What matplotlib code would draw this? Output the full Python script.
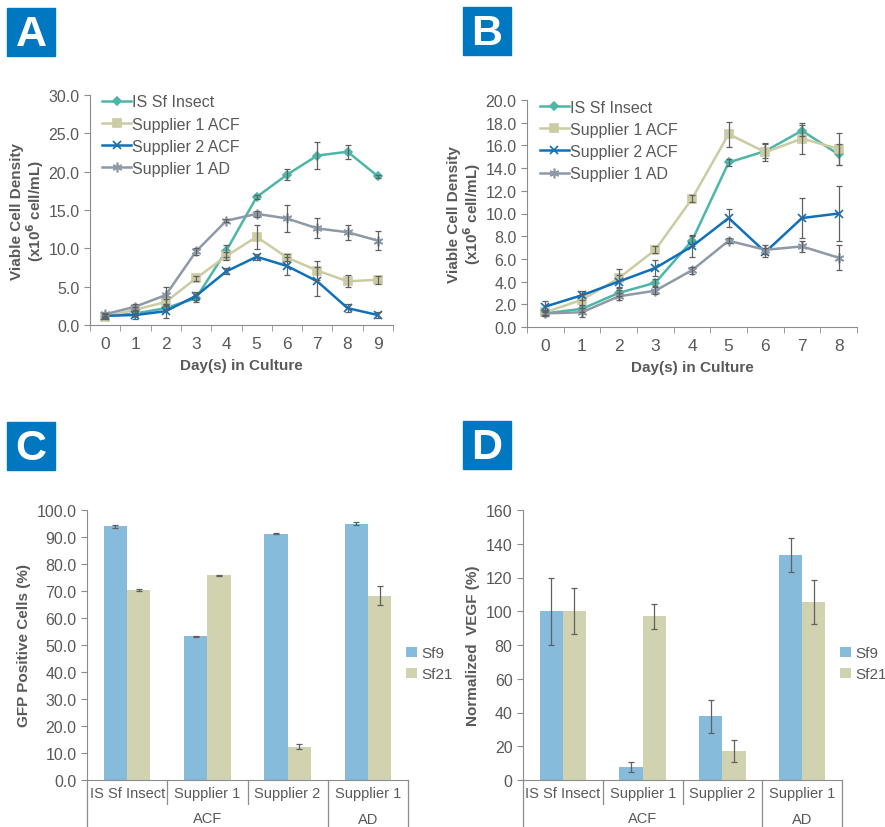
import numpy as np
import matplotlib
matplotlib.use('Agg')
import matplotlib.pyplot as plt
from matplotlib.patches import Rectangle

plt.rcParams['font.family'] = ['Liberation Sans', 'DejaVu Sans']

# ---- data ----
series = ['IS Sf Insect', 'Supplier 1 ACF', 'Supplier 2 ACF', 'Supplier 1 AD']

days_a = [0, 1, 2, 3, 4, 5, 6, 7, 8, 9]
a_vals = [
    [1.2, 1.5, 2.2, 3.5, 9.7, 16.7, 19.6, 22.1, 22.6, 19.4],
    [1.1, 2.0, 3.0, 6.1, 9.0, 11.5, 8.8, 7.1, 5.7, 5.9],
    [1.2, 1.3, 1.8, 3.8, 7.0, 8.9, 7.7, 5.7, 2.2, 1.3],
    [1.4, 2.4, 3.9, 9.6, 13.6, 14.5, 13.9, 12.6, 12.1, 11.0],
]
a_err = [
    [0.2, 0.3, 0.3, 0.5, 0.8, 0.3, 0.7, 1.8, 0.9, 0.2],
    [0.3, 0.4, 0.4, 0.3, 0.5, 1.6, 0.4, 1.2, 0.8, 0.5],
    [0.3, 0.5, 0.9, 0.5, 0.4, 0.4, 1.2, 1.9, 0.5, 0.4],
    [0.2, 0.4, 1.1, 0.5, 0.2, 0.4, 1.8, 1.3, 1.0, 1.2],
]

days_b = [0, 1, 2, 3, 4, 5, 6, 7, 8]
b_vals = [
    [1.2, 1.6, 3.0, 3.9, 7.6, 14.5, 15.5, 17.3, 15.2],
    [1.3, 2.4, 4.3, 6.8, 11.3, 17.0, 15.4, 16.6, 15.7],
    [1.8, 2.8, 4.0, 5.2, 7.1, 9.6, 6.6, 9.6, 10.0],
    [1.2, 1.3, 2.7, 3.2, 5.0, 7.6, 6.8, 7.1, 6.1],
]
b_err = [
    [0.2, 0.3, 0.3, 0.3, 0.5, 0.3, 0.6, 0.5, 0.9],
    [0.2, 0.5, 0.8, 0.3, 0.3, 1.1, 0.8, 1.4, 1.4],
    [0.5, 0.4, 0.6, 0.7, 0.9, 0.8, 0.4, 1.8, 2.4],
    [0.2, 0.4, 0.3, 0.3, 0.3, 0.2, 0.4, 0.5, 1.1],
]

groups = ['IS Sf Insect', 'Supplier 1', 'Supplier 2', 'Supplier 1']
cells = ['Sf9', 'Sf21']
c_sf9 = [94.0, 53.2, 91.2, 95.0]
c_sf9_err = [0.5, 0.2, 0.2, 0.4]
c_sf21 = [70.3, 75.8, 12.3, 68.2]
c_sf21_err = [0.3, 0.2, 1.0, 3.5]

d_sf9 = [100, 7.8, 37.7, 133.5]
d_sf9_err = [20, 3, 10, 10]
d_sf21 = [100, 97, 17.3, 105.6]
d_sf21_err = [13.5, 7.3, 6.4, 13]

# ---- style ----
line_colors = ['#4db6a6', '#cbcca3', '#0f70bb', '#8e99a8']
markers = ['D', 's', 'x', (6, 2, 0)]
msizes = [4, 6, 6, 7]
bar_colors = ['#86bbdb', '#d1d2b0']
badge_blue = '#0078c1'
txt = '#595959'
axc = '#8c8c8c'
errc = '#606060'

fig = plt.figure(figsize=(8.85, 8.28), dpi=100)


def px_axes(l, t, r, b):
    W, H = 885.0, 828.0
    return fig.add_axes([l / W, 1 - b / H, (r - l) / W, (b - t) / H])


def badge(x0, y0, letter):
    W, H = 885.0, 828.0
    fig.patches.append(Rectangle((x0 / W, 1 - (y0 + 48) / H), 48 / W, 48 / H,
                                 transform=fig.transFigure, color=badge_blue))
    fig.text((x0 + 24) / W, 1 - (y0 + 26) / H, letter, color='white',
             fontsize=31, fontweight='bold', ha='center', va='center')


def style_axes(ax):
    for s in ['top', 'right']:
        ax.spines[s].set_visible(False)
    ax.spines['left'].set_color(axc)
    ax.spines['bottom'].set_color(axc)
    ax.tick_params(axis='y', colors=axc, labelcolor=txt, labelsize=11.5,
                   length=4, direction='out')


def line_panel(ax, days, vals, errs, ymax, ystep):
    for k in range(4):
        ax.plot(days, vals[k], color=line_colors[k], marker=markers[k],
                markersize=msizes[k], markeredgewidth=1.2, lw=1.8,
                label=series[k], zorder=3)
        ax.errorbar(days, vals[k], yerr=errs[k], fmt='none', ecolor=errc,
                    elinewidth=0.9, capsize=2.5, capthick=0.9, zorder=4)
    style_axes(ax)
    n = len(days)
    ax.set_xlim(-0.5, n - 0.5)
    ax.set_ylim(0, ymax)
    ticks = np.arange(0, ymax + 0.01, ystep)
    ax.set_yticks(ticks)
    ax.set_yticklabels(['%.1f' % v for v in ticks])
    ax.set_xticks(days)
    ax.set_xticks(np.arange(-0.5, n, 1), minor=True)
    ax.tick_params(axis='x', which='major', length=0, labelsize=12.5,
                   labelcolor=txt, pad=8)
    ax.tick_params(axis='x', which='minor', length=4, color=axc)
    ax.set_xlabel('Day(s) in Culture', fontsize=11, fontweight='bold',
                  color=txt, labelpad=5)
    ax.set_ylabel('Viable Cell Density\n(x10$^\\mathbf{6}$ cell/mL)',
                  fontsize=11, fontweight='bold', color=txt, labelpad=2,
                  linespacing=1.0)
    leg = ax.legend(loc='upper left', bbox_to_anchor=(0.02, 1.03),
                    frameon=False, fontsize=11.5, handlelength=1.8,
                    handletextpad=0.05, labelspacing=0.45, borderaxespad=0.0)
    for t in leg.get_texts():
        t.set_color(txt)


def bar_panel(ax, sf9, sf9e, sf21, sf21e, ymax, ystep, fmt, ylabel):
    x = np.arange(len(groups))
    w = 0.29
    ekw = dict(elinewidth=0.9, capsize=2.5, capthick=0.9)
    ax.bar(x - w / 2, sf9, w, color=bar_colors[0], label=cells[0],
           yerr=sf9e, ecolor=errc, error_kw=ekw)
    ax.bar(x + w / 2, sf21, w, color=bar_colors[1], label=cells[1],
           yerr=sf21e, ecolor=errc, error_kw=ekw)
    style_axes(ax)
    ax.set_xlim(-0.5, len(groups) - 0.5)
    ax.set_ylim(0, ymax)
    ticks = np.arange(0, ymax + 0.01, ystep)
    ax.set_yticks(ticks)
    ax.set_yticklabels([fmt % v for v in ticks])
    ax.set_xticks([])
    ax.set_ylabel(ylabel, fontsize=11, fontweight='bold', color=txt,
                  labelpad=4)
    # hierarchical category axis
    tr = ax.get_xaxis_transform()
    for i, g in enumerate(groups):
        ax.text(i, -0.048, g, transform=tr, ha='center', va='center',
                fontsize=10.5, color=txt, clip_on=False)
    for b in [0.5, 1.5]:
        ax.plot([b, b], [0, -0.09], transform=tr, color=axc, lw=0.9,
                clip_on=False)
    for b in [-0.5, 2.5, 3.5]:
        ax.plot([b, b], [0, -0.2], transform=tr, color=axc, lw=0.9,
                clip_on=False)
    ax.text(1.0, -0.14, 'ACF', transform=tr, ha='center', va='center',
            fontsize=10.5, color=txt, clip_on=False)
    ax.text(3.0, -0.145, 'AD', transform=tr, ha='center', va='center',
            fontsize=10.5, color=txt, clip_on=False)
    leg = ax.legend(loc='center left', bbox_to_anchor=(0.995, 0.43),
                    frameon=False, fontsize=11, handlelength=0.7,
                    handleheight=0.7, handletextpad=0.25, labelspacing=0.45,
                    borderaxespad=0.0, borderpad=0.0)
    for t in leg.get_texts():
        t.set_color(txt)


axA = px_axes(90, 96, 393, 326)
line_panel(axA, days_a, a_vals, a_err, 30, 5)

axB = px_axes(527, 101, 857, 328)
line_panel(axB, days_b, b_vals, b_err, 20, 2)

axC = px_axes(87, 511, 408, 781)
bar_panel(axC, c_sf9, c_sf9_err, c_sf21, c_sf21_err, 100, 10, '%.1f',
          'GFP Positive Cells (%)')

axD = px_axes(523, 511, 842, 781)
bar_panel(axD, d_sf9, d_sf9_err, d_sf21, d_sf21_err, 160, 20, '%d',
          'Normalized  VEGF (%)')

badge(7, 9, 'A')
badge(463, 8, 'B')
badge(7, 423, 'C')
badge(463, 422, 'D')

fig.savefig('out.png', dpi=100, facecolor='white')
